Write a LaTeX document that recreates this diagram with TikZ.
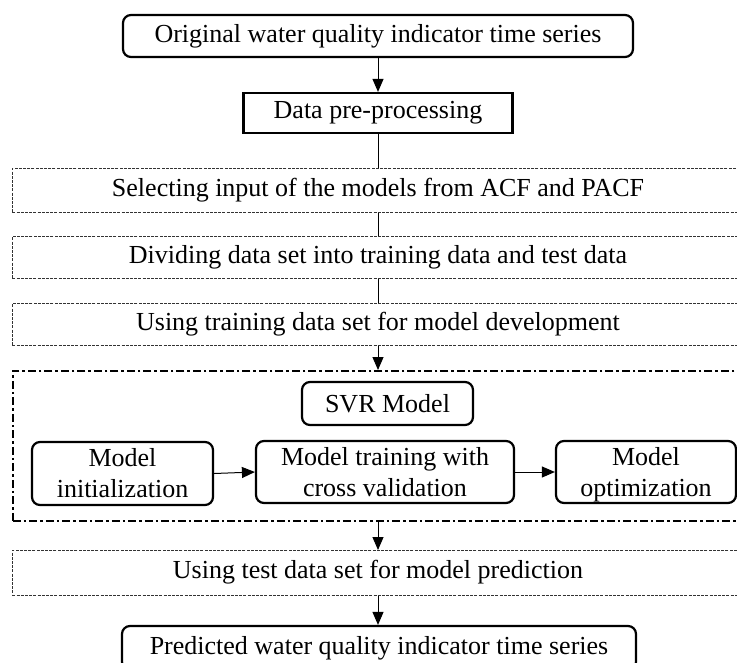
\documentclass[tikz,border=0pt]{standalone}
\usepackage{fontspec}
\setmainfont{Liberation Serif}
\usetikzlibrary{arrows.meta}
\begin{document}
\begin{tikzpicture}[x=1pt,y=-1pt,
  every node/.style={font=\fontsize{26}{31}\selectfont, inner sep=0pt, align=center},
  roundbox/.style={draw, line width=2.2pt, rounded corners=8pt},
  sharpbox/.style={draw, line width=2.2pt},
  dotbox/.style={draw, line width=0.9pt, dash pattern=on 3pt off 1.2pt, draw=black!80},
  dashdotbox/.style={draw, line width=1.5pt, dash pattern=on 8pt off 3pt on 2.5pt off 3pt},
  conn/.style={line width=1pt},
  arr/.style={line width=1pt, -{Triangle[width=11pt,length=13pt]}}
]
\useasboundingbox (0,0) rectangle (737,662);
\clip (0,0) rectangle (737,662);
% dash-dot container
\node[dashdotbox, minimum width=745pt, minimum height=150pt, anchor=north west] (group) at (12,370) {};
% main column
\node[roundbox, minimum width=510pt, minimum height=42pt] (orig) at (378,36) {Original water quality indicator time series};
\node[sharpbox, minimum width=269pt, minimum height=40pt] (pre) at (378,113) {Data pre-processing};
\node[dotbox, minimum width=745pt, minimum height=44pt, anchor=north west] (sel) at (12,168) {};
\node at (378,190) (seltxt) {Selecting input of the models from ACF and PACF};
\node[dotbox, minimum width=745pt, minimum height=42pt, anchor=north west] (div) at (12,236) {};
\node at (378,257) (divtxt) {Dividing data set into training data and test data};
\node[dotbox, minimum width=745pt, minimum height=42pt, anchor=north west] (trn) at (12,303) {};
\node at (378,324) (trntxt) {Using training data set for model development};
\node[roundbox, minimum width=171pt, minimum height=43pt] (svr) at (387.5,403.5) {SVR Model};
\node[roundbox, minimum width=181pt, minimum height=63pt] (init) at (122.5,473.5) {Model\\initialization};
\node[roundbox, minimum width=258pt, minimum height=62pt] (mtrain) at (385,472) {Model training with\\cross validation};
\node[roundbox, minimum width=180pt, minimum height=62pt] (opt) at (646,472) {Model\\\smash{optimization}};
\node[dotbox, minimum width=745pt, minimum height=45pt, anchor=north west] (tst) at (12,550) {};
\node at (378,572) (tsttxt) {Using test data set for model prediction};
\node[roundbox, minimum width=514pt, minimum height=44pt] (pred) at (379,648) {Predicted water quality indicator time series};
% connectors
\draw[arr] (orig.south) -- (pre.north);
\draw[conn] (pre.south) -- (pre.south |- sel.north);
\draw[conn] (pre.south |- sel.south) -- (pre.south |- div.north);
\draw[conn] (pre.south |- div.south) -- (pre.south |- trn.north);
\draw[arr] (pre.south |- trn.south) -- (pre.south |- group.north);
\draw[arr] (init.east) -- (mtrain.west);
\draw[arr] (mtrain.east) -- (opt.west);
\draw[arr] (pre.south |- group.south) -- (pre.south |- tst.north);
\draw[arr] (pre.south |- tst.south) -- (pre.south |- pred.north);
\end{tikzpicture}
\end{document}
